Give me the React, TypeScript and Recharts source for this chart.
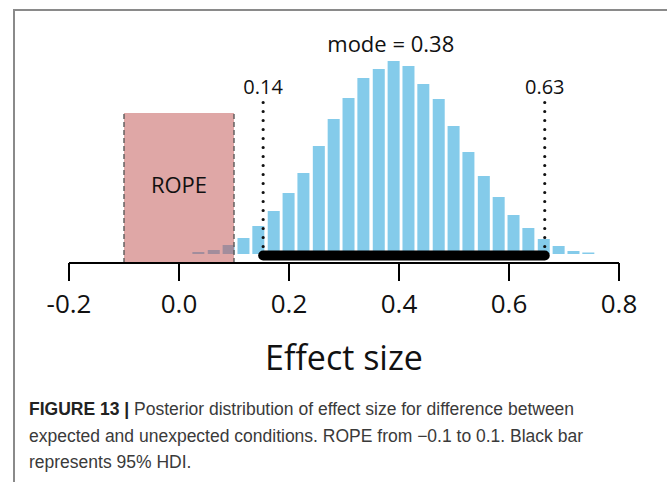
import React from 'react';
import {
  ComposedChart, Bar, XAxis, YAxis, ReferenceArea, ReferenceLine, ReferenceDot,
} from 'recharts';

// posterior histogram of effect size (bin centre, relative frequency)
const binCenters = [
  0.036, 0.064, 0.091, 0.118, 0.145, 0.173, 0.2, 0.227, 0.255, 0.282, 0.309, 0.336, 0.364, 0.391,
  0.418, 0.445, 0.473, 0.5, 0.527, 0.555, 0.582, 0.609, 0.636, 0.664, 0.691, 0.718, 0.745,
];
const freq = [
  2, 4, 9, 16, 28, 43, 61, 81, 108, 135, 156, 176, 185, 193,
  188, 170, 155, 128, 102, 78, 57, 39, 26, 15, 8, 3, 1.5,
];
const xTicks = [-0.2, 0, 0.2, 0.4, 0.6, 0.8];
const rope = [-0.1, 0.1];
const hdi = [0.153, 0.665];
const hdiLabels = ['0.14', '0.63'];
const modeX = 0.385;
const modeLabel = 'mode = 0.38';

const data = binCenters.map((x, i) => ({ x, freq: freq[i] }));

const FONT = '"Open Sans", "Noto Sans", sans-serif';
const BLUE = '#84cbea';

export default function App() {
  return (
    <div style={{ position: 'absolute', left: 0, top: 0, width: 667, height: 482, background: '#fff', overflow: 'hidden' }}>
      <div
        style={{
          position: 'absolute', left: 13, top: 9, width: 700, height: 500,
          borderTop: '2px solid #8a8a8a', borderLeft: '2px solid #8a8a8a',
        }}
      />
      <div style={{ position: 'absolute', left: 0, top: 0 }}>
        <ComposedChart
          width={667}
          height={390}
          data={data}
          margin={{ top: 4, right: 48, left: 69, bottom: 7 }}
        >
          <XAxis
            dataKey="x"
            type="number"
            domain={[-0.2, 0.8]}
            ticks={xTicks}
            tickFormatter={(v: number) => v.toFixed(1)}
            height={120}
            stroke="#000"
            strokeWidth={2}
            tickSize={18}
            tickMargin={14}
            tick={{ fill: '#111', fontSize: 26, fontFamily: FONT }}
            label={{ value: 'Effect size', position: 'insideBottom', offset: 13, fill: '#111', fontSize: 34, fontFamily: FONT }}
          />
          <YAxis hide domain={[-9, 250]} allowDataOverflow />
          <Bar dataKey="freq" fill={BLUE} barSize={12} isAnimationActive={false} />
          <ReferenceArea
            x1={rope[0]}
            x2={rope[1]}
            y1={-9}
            y2={141}
            fill="#c0504d"
            fillOpacity={0.5}
            stroke="none"
            zIndex={350}
            label={{ value: 'ROPE', position: 'insideTop', offset: 64, fill: '#111', fontSize: 22, fontFamily: FONT }}
          />
          {rope.map((r) => (
            <ReferenceLine
              key={`rope-${r}`}
              segment={[{ x: r, y: -9 }, { x: r, y: 141 }]}
              stroke="#5a5a5a"
              strokeWidth={1.4}
              strokeDasharray="5 3"
              zIndex={360}
            />
          ))}
          {hdi.map((h, i) => (
            <ReferenceLine
              key={`hdi-${h}`}
              segment={[{ x: h, y: -1.5 }, { x: h, y: 152 }]}
              stroke="#111"
              strokeWidth={3.2}
              strokeDasharray="0 9"
              strokeLinecap="round"
              zIndex={400}
              label={{ value: hdiLabels[i], position: 'top', offset: 8, fill: '#111', fontSize: 20, fontFamily: FONT }}
            />
          ))}
          <ReferenceLine
            segment={[{ x: hdi[0], y: -1.5 }, { x: hdi[1], y: -1.5 }]}
            stroke="#000"
            strokeWidth={10}
            strokeLinecap="round"
            zIndex={410}
          />
          <ReferenceDot
            x={modeX}
            y={202}
            r={0}
            fill="none"
            stroke="none"
            label={{ value: modeLabel, position: 'top', offset: 0, fill: '#111', fontSize: 22, fontFamily: FONT }}
          />
        </ComposedChart>
      </div>
      <div
        style={{
          position: 'absolute', left: 29, top: 396, whiteSpace: 'nowrap',
          fontFamily: '"Liberation Sans", Arial, sans-serif', fontSize: 17.5, lineHeight: '26.5px', color: '#3a3a3a',
        }}
      >
        <b style={{ color: '#222' }}>FIGURE 13 |</b> Posterior distribution of effect size for difference between
        <br />
        expected and unexpected conditions. ROPE from −0.1 to 0.1. Black bar
        <br />
        represents 95% HDI.
      </div>
    </div>
  );
}
